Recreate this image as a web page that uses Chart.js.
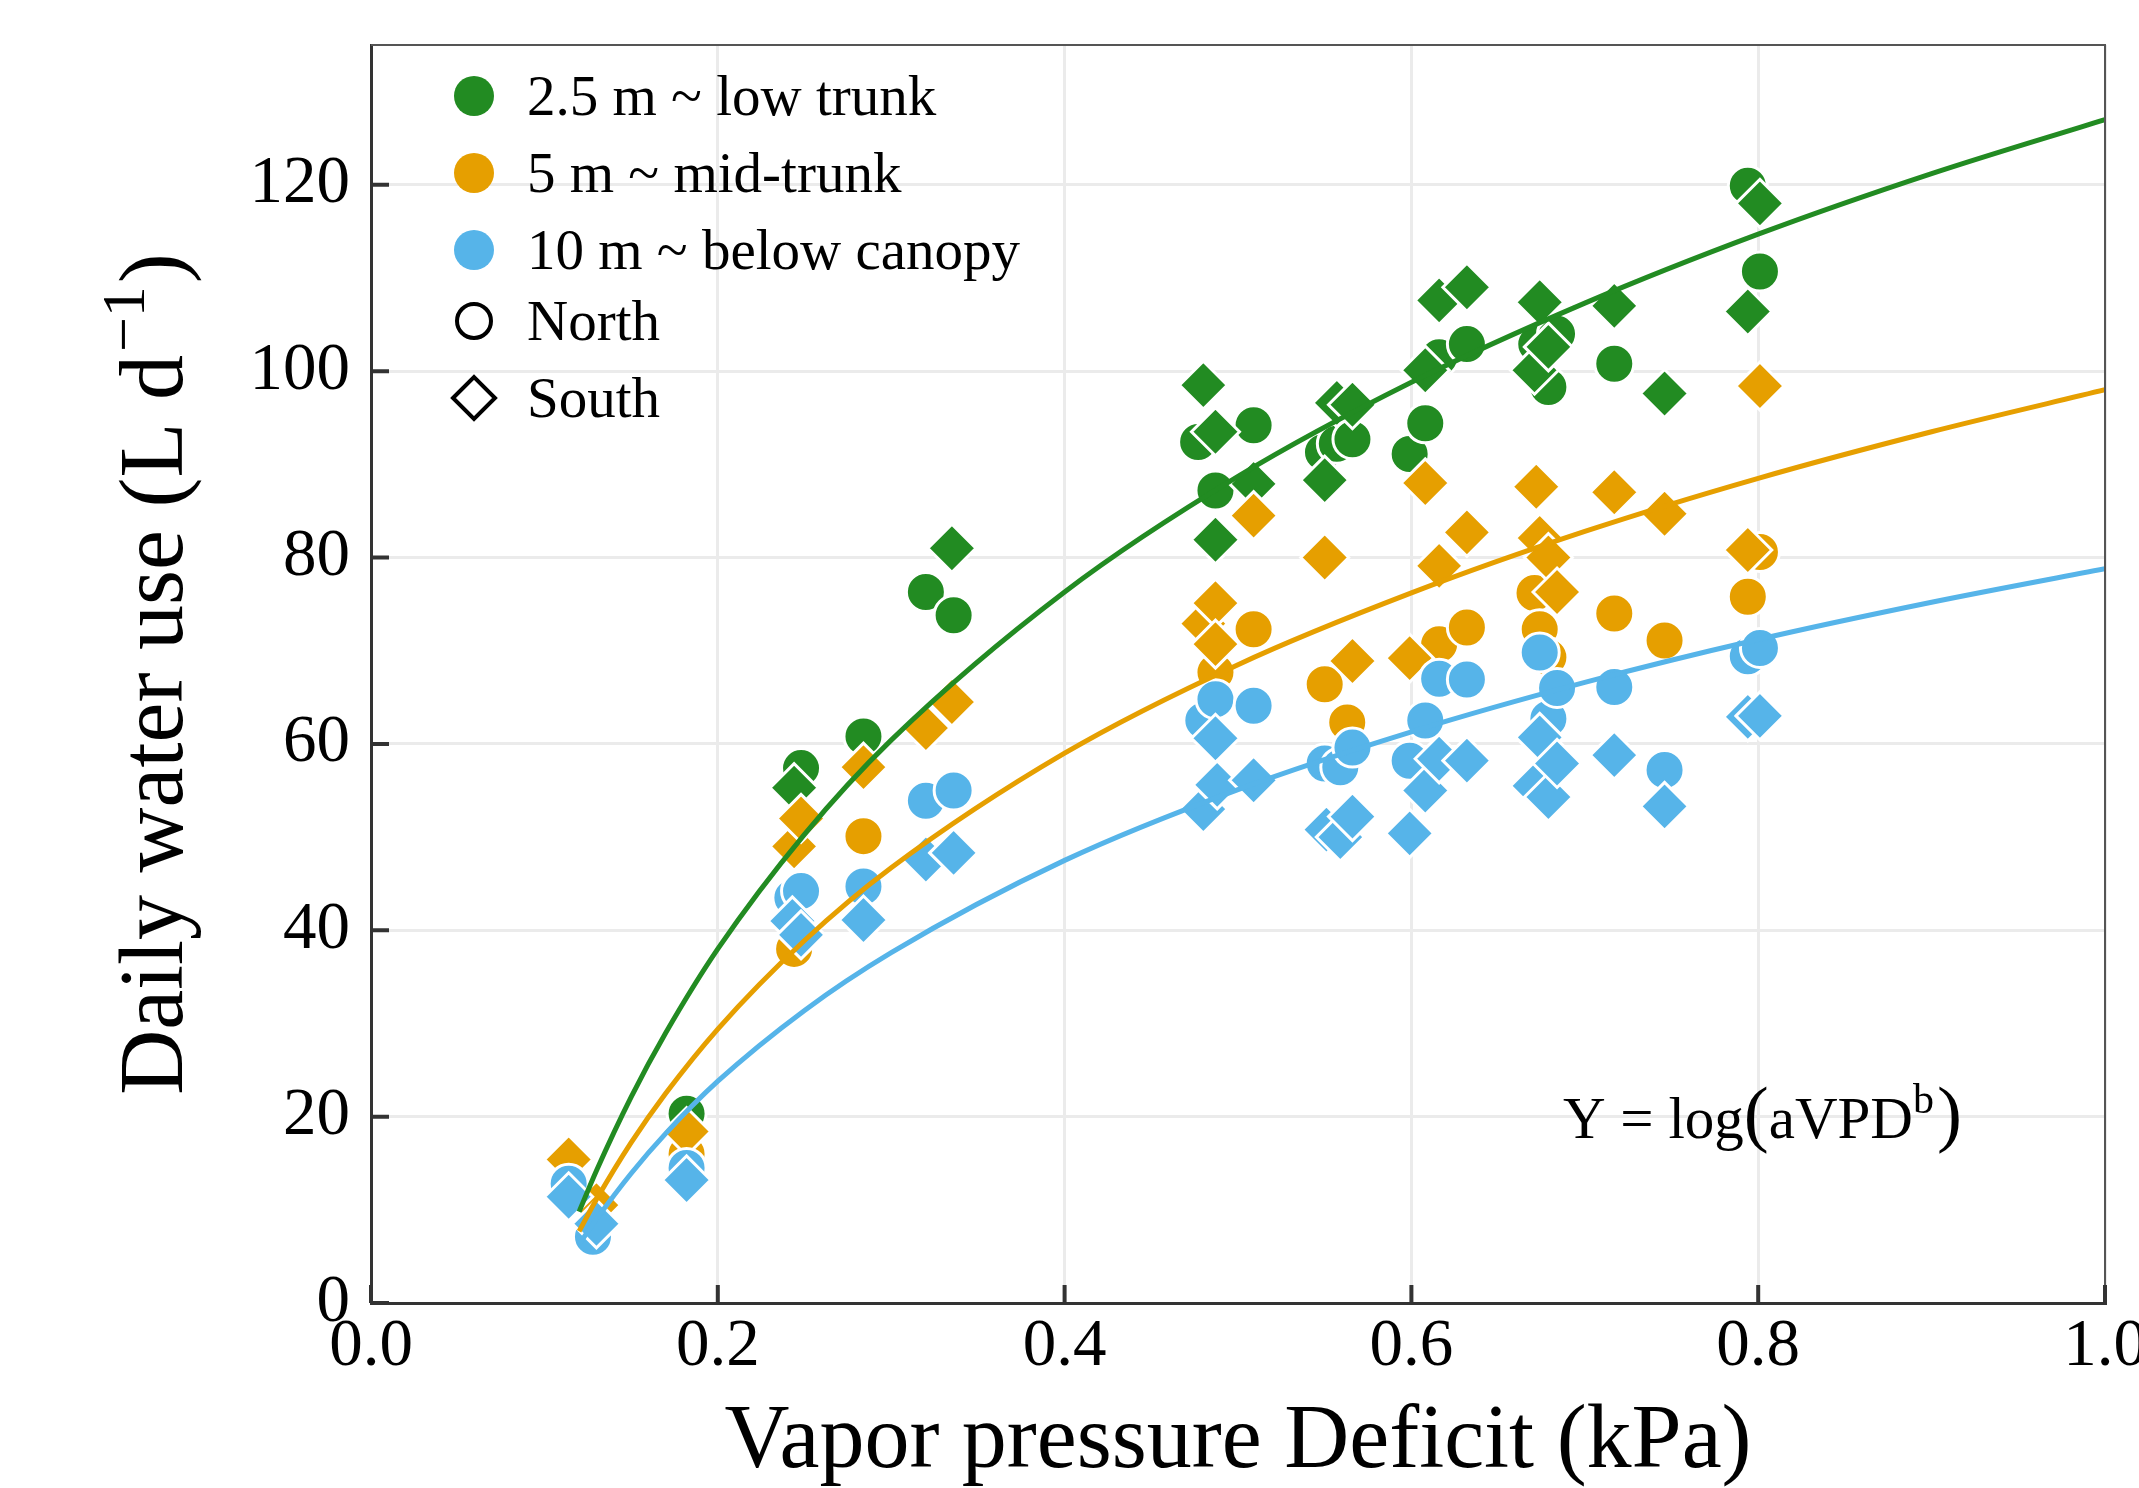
<!DOCTYPE html>
<html lang="en">

<head>
  <meta charset="UTF-8">
  <title>Daily water use vs VPD</title>
  <script src="https://cdn.jsdelivr.net/npm/chart.js"></script>
  <style>
    html, body { margin: 0; padding: 0; background: #fff; }
    #wrap { width: 2139px; height: 1488px; }
  </style>
</head>

<body>
  <div id="wrap"><canvas id="myChart"></canvas></div>

  <script>
    // legend labels
    const heightLabels = ['2.5 m ~ low trunk', '5 m ~ mid-trunk', '10 m ~ below canopy'];
    const sideLabels = ['North', 'South'];
    const colors = ['#228B22', '#E69F00', '#56B4E9'];

    // axis ticks
    const xTicks = [0, 0.2, 0.4, 0.6, 0.8, 1.0];
    const yTicks = [0, 20, 40, 60, 80, 100, 120];

    // 2.5 m - north (circles)
    const lowNorthVpd = [0.128, 0.182, 0.248, 0.284, 0.320, 0.336, 0.477, 0.487, 0.509, 0.549, 0.557, 0.566, 0.599, 0.608, 0.616, 0.632, 0.672, 0.679, 0.684, 0.717, 0.794, 0.801];
    const lowNorthUse = [7.1, 20.3, 57.4, 60.8, 76.3, 73.8, 92.4, 87.2, 94.2, 91.3, 92.2, 92.7, 91.1, 94.4, 101.5, 102.9, 102.9, 98.3, 104.0, 100.8, 119.9, 110.7];
    // 2.5 m - south (diamonds)
    const lowSouthVpd = [0.244, 0.335, 0.480, 0.487, 0.487, 0.509, 0.550, 0.557, 0.566, 0.608, 0.616, 0.632, 0.671, 0.674, 0.679, 0.717, 0.746, 0.794, 0.801];
    const lowSouthUse = [55.3, 81.0, 98.5, 93.5, 81.9, 87.9, 88.3, 96.6, 96.4, 100.1, 107.6, 109.0, 100.1, 107.4, 102.6, 107.0, 97.6, 106.4, 118.0];

    // 5 m - north
    const midNorthVpd = [0.182, 0.244, 0.284, 0.487, 0.509, 0.550, 0.563, 0.616, 0.632, 0.671, 0.674, 0.679, 0.717, 0.746, 0.794, 0.801];
    const midNorthUse = [16.0, 38.0, 50.1, 67.7, 72.3, 66.4, 62.3, 70.7, 72.5, 76.2, 72.3, 69.3, 74.0, 71.1, 75.8, 80.6];
    // 5 m - south
    const midSouthVpd = [0.114, 0.130, 0.182, 0.244, 0.248, 0.284, 0.320, 0.335, 0.480, 0.487, 0.487, 0.509, 0.550, 0.566, 0.599, 0.608, 0.616, 0.632, 0.672, 0.674, 0.679, 0.684, 0.717, 0.746, 0.794, 0.801];
    const midSouthUse = [15.4, 10.5, 18.4, 49.0, 52.0, 57.5, 61.7, 64.5, 72.9, 75.1, 70.7, 84.5, 80.0, 68.9, 69.2, 88.0, 79.1, 82.7, 87.6, 82.1, 80.0, 76.3, 87.0, 84.7, 80.8, 98.4];

    // 10 m - north
    const highNorthVpd = [0.114, 0.128, 0.182, 0.243, 0.248, 0.284, 0.320, 0.336, 0.480, 0.487, 0.509, 0.550, 0.559, 0.566, 0.599, 0.608, 0.616, 0.632, 0.674, 0.679, 0.684, 0.717, 0.746, 0.794, 0.801];
    const highNorthUse = [12.8, 7.1, 14.5, 43.5, 44.2, 44.7, 53.9, 55.0, 62.5, 64.8, 64.1, 57.9, 57.5, 59.6, 58.2, 62.5, 67.0, 66.9, 69.8, 62.7, 66.0, 66.1, 57.2, 69.4, 70.3];
    // 10 m - south
    const highSouthVpd = [0.114, 0.130, 0.182, 0.243, 0.248, 0.284, 0.320, 0.336, 0.480, 0.487, 0.488, 0.509, 0.551, 0.559, 0.566, 0.599, 0.608, 0.616, 0.632, 0.671, 0.674, 0.679, 0.684, 0.717, 0.746, 0.794, 0.801];
    const highSouthUse = [11.4, 8.5, 13.2, 41.0, 39.5, 41.1, 47.6, 48.3, 53.0, 60.6, 55.6, 56.1, 50.8, 50.0, 52.2, 50.4, 55.0, 58.4, 58.2, 55.5, 60.7, 54.3, 57.9, 58.8, 53.3, 62.9, 63.0];

    // fitted curves
    const fitVpd = [0.12, 0.13, 0.15, 0.17, 0.2, 0.25, 0.3, 0.4, 0.5, 0.6, 0.7, 0.8, 0.9, 1.0];
    const fitLow = [9.8, 14.2, 22.1, 29.0, 38.0, 50.3, 60.4, 76.3, 88.7, 98.8, 107.3, 114.7, 121.2, 127.0];
    const fitMid = [7.7, 11.1, 17.2, 22.5, 29.4, 38.9, 46.7, 59.0, 68.5, 76.2, 82.8, 88.5, 93.5, 98.0];
    const fitHigh = [6.3, 9.0, 13.9, 18.2, 23.8, 31.4, 37.6, 47.5, 55.1, 61.3, 66.6, 71.2, 75.2, 78.8];

    const serif = "'Liberation Serif', 'Times New Roman', serif";

    function pts(xs, ys) {
      return xs.map(function (x, i) { return { x: x, y: ys[i] }; });
    }

    function pointSet(label, xs, ys, color, style, order) {
      return {
        label: label,
        data: pts(xs, ys),
        pointStyle: style,
        pointRadius: style == 'circle' ? 19.5 : 24,
        pointBackgroundColor: color,
        pointBorderColor: '#ffffff',
        pointBorderWidth: 3,
        showLine: false,
        order: order
      };
    }

    function fitSet(label, ys, color) {
      return {
        label: label,
        data: pts(fitVpd, ys),
        showLine: true,
        borderColor: color,
        borderWidth: 5,
        pointRadius: 0,
        cubicInterpolationMode: 'monotone',
        order: 0
      };
    }

    // ggplot-ish extras: inward ticks, panel box, legend, equation, y title
    const decor = {
      id: 'decor',
      afterDatasetsDraw(chart) {
        const ctx = chart.ctx;
        const a = chart.chartArea;
        const x = chart.scales.x, y = chart.scales.y;
        ctx.save();
        ctx.strokeStyle = '#555555';
        ctx.lineWidth = 2;
        ctx.beginPath();
        ctx.moveTo(a.left, a.top);
        ctx.lineTo(a.right, a.top);
        ctx.lineTo(a.right, a.bottom);
        ctx.stroke();

        ctx.strokeStyle = '#333333';
        ctx.lineWidth = 4;
        ctx.beginPath();
        xTicks.forEach(function (v) {
          const px = x.getPixelForValue(v);
          ctx.moveTo(px, a.bottom);
          ctx.lineTo(px, a.bottom - 18);
        });
        yTicks.forEach(function (v) {
          const py = y.getPixelForValue(v);
          ctx.moveTo(a.left, py);
          ctx.lineTo(a.left + 18, py);
        });
        ctx.stroke();
        ctx.restore();
      },
      afterDraw(chart) {
        const ctx = chart.ctx;
        const a = chart.chartArea;
        ctx.save();
        ctx.fillStyle = '#000';
        ctx.textAlign = 'left';
        ctx.textBaseline = 'alphabetic';

        // legend
        const mx = a.left + 103, tx = a.left + 156;
        const rows = [51, 128, 205, 276, 353];
        const labels = heightLabels.concat(sideLabels);
        ctx.font = '57px ' + serif;
        labels.forEach(function (txt, i) {
          const cy = a.top + rows[i];
          if (i < 3) {
            ctx.fillStyle = colors[i];
            ctx.beginPath();
            ctx.arc(mx, cy, 20, 0, Math.PI * 2);
            ctx.fill();
          } else if (i == 3) {
            ctx.strokeStyle = '#000';
            ctx.lineWidth = 4;
            ctx.beginPath();
            ctx.arc(mx, cy, 17, 0, Math.PI * 2);
            ctx.stroke();
          } else {
            ctx.strokeStyle = '#000';
            ctx.lineWidth = 4;
            ctx.beginPath();
            ctx.moveTo(mx - 21, cy);
            ctx.lineTo(mx, cy - 21);
            ctx.lineTo(mx + 21, cy);
            ctx.lineTo(mx, cy + 21);
            ctx.closePath();
            ctx.stroke();
          }
          ctx.fillStyle = '#000';
          ctx.fillText(txt, tx, cy + 19);
        });

        // equation
        let ex = a.left + 1192;
        const eb = a.top + 1093;
        const parts = [
          ['Y = log', 59, 0], ['(', 75, 0], ['aVPD', 59, 0], ['b', 42, 25], [')', 75, 0]
        ];
        parts.forEach(function (p) {
          ctx.font = p[1] + 'px ' + serif;
          ctx.fillText(p[0], ex, eb - p[2]);
          ex += ctx.measureText(p[0]).width + (p[0] == 'b' ? 3 : 0);
        });

        // y axis title with superscript
        ctx.translate(182, (a.top + a.bottom) / 2);
        ctx.rotate(-Math.PI / 2);
        ctx.font = '90px ' + serif;
        const t1 = 'Daily water use (L d';
        const w1 = ctx.measureText(t1).width;
        const w3 = ctx.measureText(')').width;
        ctx.font = '62px ' + serif;
        const t2 = '\u22121';
        const w2 = ctx.measureText(t2).width;
        let sx = -(w1 + w2 + w3 + 6) / 2;
        ctx.font = '90px ' + serif;
        ctx.fillText(t1, sx, 0);
        ctx.font = '62px ' + serif;
        ctx.fillText(t2, sx + w1 + 3, -38);
        ctx.font = '90px ' + serif;
        ctx.fillText(')', sx + w1 + w2 + 6, 0);
        ctx.restore();
      }
    };

    const ctx = document.getElementById('myChart');
    const chart = new Chart(ctx, {
      type: 'scatter',
      data: {
        datasets: [
          fitSet('fit 2.5 m', fitLow, colors[0]),
          fitSet('fit 5 m', fitMid, colors[1]),
          fitSet('fit 10 m', fitHigh, colors[2]),
          pointSet('10 m South', highSouthVpd, highSouthUse, colors[2], 'rectRot', 5),
          pointSet('10 m North', highNorthVpd, highNorthUse, colors[2], 'circle', 6),
          pointSet('5 m South', midSouthVpd, midSouthUse, colors[1], 'rectRot', 7),
          pointSet('5 m North', midNorthVpd, midNorthUse, colors[1], 'circle', 8),
          pointSet('2.5 m South', lowSouthVpd, lowSouthUse, colors[0], 'rectRot', 9),
          pointSet('2.5 m North', lowNorthVpd, lowNorthUse, colors[0], 'circle', 10)
        ]
      },
      options: {
        responsive: true,
        maintainAspectRatio: false,
        animation: false,
        devicePixelRatio: 1,
        layout: { padding: { top: 45, right: 34, left: 0, bottom: 0 } },
        plugins: {
          legend: { display: false },
          tooltip: { enabled: false }
        },
        scales: {
          x: {
            type: 'linear',
            min: 0,
            max: 1.0,
            afterBuildTicks: function (scale) {
              scale.ticks = xTicks.map(function (v) { return { value: v }; });
            },
            afterFit: function (scale) {
              scale.height = 185;
              scale.paddingLeft = 0;
              scale.paddingRight = 0;
            },
            grid: { color: '#EBEBEB', lineWidth: 3, drawTicks: false },
            border: { display: true, color: '#333333', width: 3 },
            ticks: {
              autoSkip: false,
              maxRotation: 0,
              padding: 4,
              color: '#000',
              font: { family: serif, size: 67 },
              callback: function (v) { return v.toFixed(1); }
            },
            title: {
              display: true,
              text: 'Vapor pressure Deficit (kPa)',
              color: '#000',
              font: { family: serif, size: 90, lineHeight: 1 },
              padding: { top: 0, bottom: 0 }
            }
          },
          y: {
            type: 'linear',
            min: 0,
            max: 135,
            afterBuildTicks: function (scale) {
              scale.ticks = yTicks.map(function (v) { return { value: v }; });
            },
            afterFit: function (scale) {
              scale.width = 371;
              scale.paddingTop = 0;
              scale.paddingBottom = 0;
            },
            grid: { color: '#EBEBEB', lineWidth: 3, drawTicks: false },
            border: { display: true, color: '#333333', width: 3 },
            ticks: {
              autoSkip: false,
              padding: 21,
              color: '#000',
              font: { family: serif, size: 67 }
            }
          }
        }
      },
      plugins: [decor]
    });
  </script>
</body>

</html>
